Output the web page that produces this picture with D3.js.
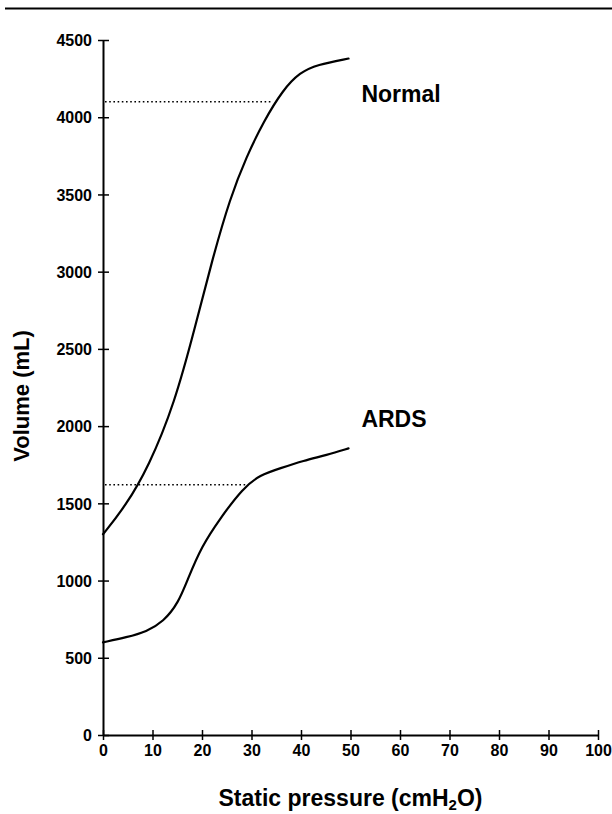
<!DOCTYPE html>
<html>
<head>
<meta charset="utf-8">
<script src="https://cdn.jsdelivr.net/npm/d3@7/dist/d3.min.js"></script>
<style>
  html, body { margin: 0; padding: 0; background: #fff; }
  svg { display: block; }
  text { font-family: "Liberation Sans", Arial, sans-serif; font-weight: bold; fill: #000; }
</style>
</head>
<body>
<svg id="chart" width="612" height="814"></svg>
<script>
// Pressure–volume curves (static pressure in cmH2O, volume in mL)
const normalPressure = [0, 4.5, 9.2, 14.5, 18.6, 22.0, 25.7, 29.0, 32.4, 36.4, 39.8, 43.2, 49.6];
const normalVolume   = [1300, 1480, 1735, 2150, 2640, 3070, 3480, 3745, 3970, 4180, 4290, 4340, 4380];

const ardsPressure = [0, 4.8, 8.8, 12.2, 15.2, 17.2, 19.9, 23.6, 28.3, 31.7, 35.8, 40.5, 45.2, 49.6];
const ardsVolume   = [600, 633, 669, 734, 853, 1015, 1220, 1400, 1600, 1683, 1727, 1776, 1813, 1856];

// Horizontal reference levels drawn as dotted lines from the volume axis to each curve
const refNames    = ["Normal", "ARDS"];
const refVolume   = [4100, 1620];
const refPressure = [34, 29];

// Curve labels
const labelNames    = ["Normal", "ARDS"];
const labelPressure = [52.2, 52.2];
const labelVolume   = [4150, 2045];

// Axis ticks
const xTicks = [0, 10, 20, 30, 40, 50, 60, 70, 80, 90, 100];
const yTicks = [0, 500, 1000, 1500, 2000, 2500, 3000, 3500, 4000, 4500];

const svg = d3.select("#chart");

// Rule across the top of the figure
svg.append("line")
  .attr("x1", 5).attr("x2", 612).attr("y1", 8.5).attr("y2", 8.5)
  .attr("stroke", "#000").attr("stroke-width", 2);

const x = d3.scaleLinear().domain([0, 100]).range([103, 598]);
const y = d3.scaleLinear().domain([0, 4500]).range([735, 40]);

// Y axis
const yAxis = svg.append("g")
  .attr("transform", `translate(${x(0)},0)`)
  .call(d3.axisLeft(y).tickValues(yTicks).tickSize(0).tickPadding(11).tickFormat(d3.format("d")));
yAxis.select(".domain").attr("stroke", "#000").attr("stroke-width", 2);
yAxis.selectAll(".tick text").style("font-size", "16px").attr("dy", "0.36em");
yAxis.selectAll(".tick").append("line")
  .attr("x1", -5).attr("x2", 6).attr("stroke", "#000").attr("stroke-width", 1.5);

// X axis
const xAxis = svg.append("g")
  .attr("transform", `translate(0,${y(0)})`)
  .call(d3.axisBottom(x).tickValues(xTicks).tickSize(0).tickPadding(10).tickFormat(d3.format("d")));
xAxis.select(".domain").attr("stroke", "#000").attr("stroke-width", 2);
xAxis.selectAll(".tick text").style("font-size", "16px");
xAxis.selectAll(".tick").append("line")
  .attr("y1", -5).attr("y2", 5).attr("stroke", "#000").attr("stroke-width", 1.5);

// Axis titles
const xTitle = svg.append("text")
  .attr("x", (x(0) + x(100)) / 2).attr("y", 806)
  .attr("text-anchor", "middle")
  .style("font-size", "23px");
xTitle.append("tspan").text("Static pressure (cmH");
xTitle.append("tspan").attr("dy", 4).style("font-size", "15px").text("2");
xTitle.append("tspan").attr("dy", -4).text("O)");

svg.append("text")
  .attr("transform", `translate(29,396) rotate(-90)`)
  .attr("text-anchor", "middle")
  .style("font-size", "22px")
  .text("Volume (mL)");

// Dotted reference lines
svg.append("g").selectAll("line")
  .data(refNames.map((n, i) => ({ name: n, v: refVolume[i], p: refPressure[i] })))
  .join("line")
  .attr("x1", x(0) + 2).attr("x2", d => x(d.p))
  .attr("y1", d => y(d.v)).attr("y2", d => y(d.v))
  .attr("stroke", "#000").attr("stroke-width", 1.6)
  .attr("stroke-dasharray", "1.6,2.6");

// Curves
const line = d3.line()
  .x(d => x(d[0]))
  .y(d => y(d[1]))
  .curve(d3.curveBasis);

const series = [
  d3.zip(normalPressure, normalVolume),
  d3.zip(ardsPressure, ardsVolume)
];
svg.append("g").selectAll("path")
  .data(series)
  .join("path")
  .attr("d", line)
  .attr("fill", "none")
  .attr("stroke", "#000")
  .attr("stroke-width", 2.2)
  .attr("stroke-linecap", "round");

// Curve labels
svg.append("g").selectAll("text")
  .data(labelNames.map((n, i) => ({ name: n, p: labelPressure[i], v: labelVolume[i] })))
  .join("text")
  .attr("x", d => x(d.p))
  .attr("y", d => y(d.v))
  .attr("dy", "0.35em")
  .style("font-size", "23px")
  .text(d => d.name);
</script>
</body>
</html>
